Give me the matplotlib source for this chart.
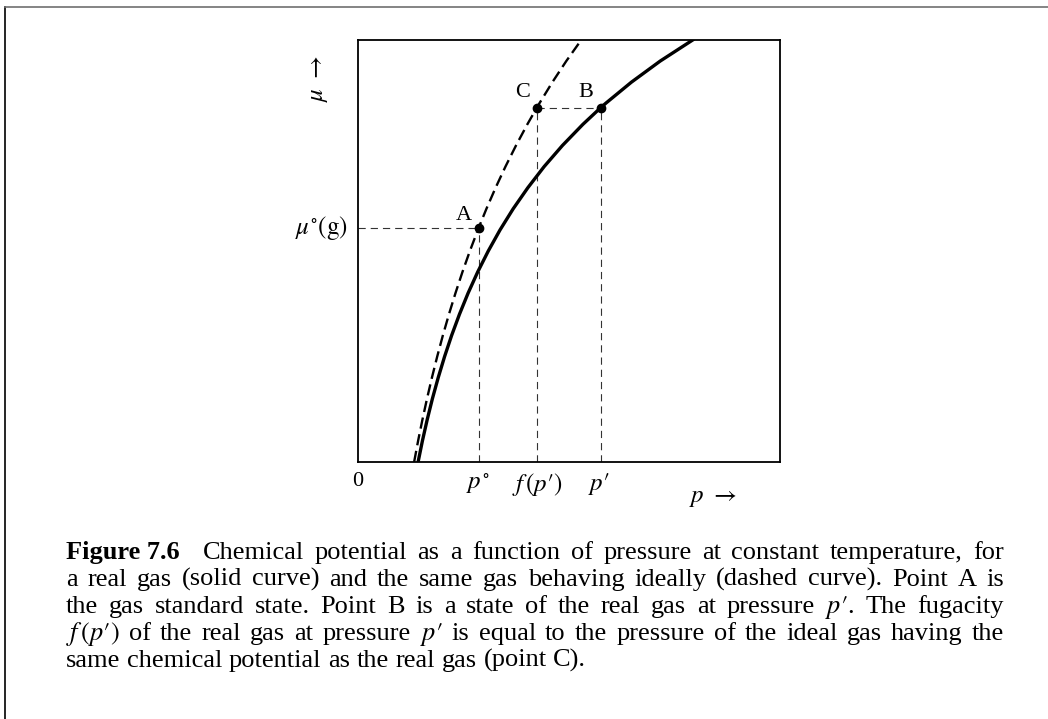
import matplotlib
matplotlib.use("Agg")
import matplotlib.pyplot as plt
from matplotlib.lines import Line2D

plt.rcParams['font.family'] = ['Liberation Serif', 'DejaVu Serif']
plt.rcParams['mathtext.fontset'] = 'stix'

W, H = 1048, 719

# ideal gas (dashed) curve: pressure vs chemical potential
ideal_p = [0.133, 0.1424, 0.1526, 0.1635, 0.1752, 0.1877, 0.2011, 0.2155, 0.2309, 0.2474,
           0.2651, 0.286, 0.3043, 0.3261, 0.3494, 0.3744, 0.4012, 0.424, 0.4299, 0.4606,
           0.4935, 0.529]
ideal_mu = [0.0, 0.05, 0.1, 0.15, 0.2, 0.25, 0.3, 0.35, 0.4, 0.45,
            0.5, 0.555, 0.6, 0.65, 0.7, 0.75, 0.8, 0.84, 0.85, 0.9,
            0.95, 1.0]

# real gas (solid) curve
real_p = [0.1424, 0.1526, 0.1639, 0.1763, 0.1901, 0.2052, 0.2219, 0.2404, 0.2608, 0.2835,
          0.3087, 0.3366, 0.3677, 0.4025, 0.4411, 0.4844, 0.5328, 0.5755, 0.587, 0.6478,
          0.716, 0.7931]
real_mu = [0.0, 0.05, 0.1, 0.15, 0.2, 0.25, 0.3, 0.35, 0.4, 0.45,
           0.5, 0.55, 0.6, 0.65, 0.7, 0.75, 0.8, 0.84, 0.85, 0.9,
           0.95, 1.0]

# marked states
p_std = 0.286      # p°
mu_std = 0.555     # mu°(g)
p_fug = 0.424      # f(p')
p_prime = 0.5755   # p'
mu_B = 0.84

caption_lines = [
    ["Figure 7.6", "Chemical", "potential", "as", "a", "function", "of", "pressure", "at",
     "constant", "temperature,", "for"],
    "a real gas (solid curve) and the same gas behaving ideally (dashed curve). Point A is".split(),
    ["the", "gas", "standard", "state.", "Point", "B", "is", "a", "state", "of", "the", "real",
     "gas", "at", "pressure", "$p′$.", "The", "fugacity"],
    ["$f\\,(p′)$", "of", "the", "real", "gas", "at", "pressure", "$p′$", "is", "equal", "to", "the",
     "pressure", "of", "the", "ideal", "gas", "having", "the"],
    "same chemical potential as the real gas (point C).".split(),
]


def fx(x):
    return x / W


def fy(y):
    return 1 - y / H


fig = plt.figure(figsize=(W / 100, H / 100), dpi=100)

# outer frame of the figure box (only top and left show)
fig.add_artist(Line2D([fx(5), fx(5)], [fy(719), fy(7)], color='black', lw=1.2,
                      transform=fig.transFigure))
fig.add_artist(Line2D([fx(5), fx(1048)], [fy(7), fy(7)], color='#707070', lw=1.2,
                      transform=fig.transFigure))

ax = fig.add_axes([fx(358), fy(462), 422 / W, 422 / H])
ax.set_xlim(0, 1)
ax.set_ylim(0, 1)
ax.set_xticks([])
ax.set_yticks([])
for s in ax.spines.values():
    s.set_linewidth(1.3)

guide = dict(color='#333333', lw=0.8, dashes=(6.5, 4.5))
ax.plot([0, p_std], [mu_std, mu_std], **guide)
ax.plot([p_std, p_std], [0, mu_std], **guide)
ax.plot([p_fug, p_prime], [mu_B, mu_B], **guide)
ax.plot([p_fug, p_fug], [0, mu_B], **guide)
ax.plot([p_prime, p_prime], [0, mu_B], **guide)

ax.plot(ideal_p, ideal_mu, color='black', lw=1.7, dashes=(4.8, 2.4), solid_joinstyle='round')
ax.plot(real_p, real_mu, color='black', lw=2.4, solid_joinstyle='round')
ax.plot([p_std, p_fug, p_prime], [mu_std, mu_B, mu_B], 'o', color='black', ms=6, clip_on=False)

fs = 16
ax.text(p_std - 0.035, mu_std + 0.03, "A", fontsize=fs, ha='center', va='center')
ax.text(p_fug - 0.035, mu_B + 0.035, "C", fontsize=fs, ha='center', va='center')
ax.text(p_prime - 0.035, mu_B + 0.035, "B", fontsize=fs, ha='center', va='center')

mfs = 18
fig.text(fx(358), fy(481), "0", fontsize=fs, ha='center', va='center')
fig.text(fx(478), fy(484), "$p^{\\circ}$", fontsize=mfs, ha='center', va='center')
fig.text(fx(537), fy(484), "$f\\,(p′)$", fontsize=mfs, ha='center', va='center')
fig.text(fx(599), fy(484), "$p′$", fontsize=mfs, ha='center', va='center')
fig.text(fx(713), fy(498), "$p\\ \\rightarrow$", fontsize=mfs, ha='center', va='center')
fig.text(fx(348), fy(228), "$\\mu^{\\circ}(\\mathrm{g})$", fontsize=mfs, ha='right',
         va='center')
fig.text(fx(319), fy(78), "$\\mu\\ \\rightarrow$", fontsize=mfs, ha='center', va='center',
         rotation=90)

# caption, justified between x0 and x1
renderer = fig.canvas.get_renderer()
x0, x1 = 66, 1004
cap_fs = 19
baselines = [559, 586, 613, 640, 667]


def width(s, weight='normal'):
    t = fig.text(0, 0, s, fontsize=cap_fs, fontweight=weight)
    w = t.get_window_extent(renderer).width
    t.remove()
    return w


space = width("a a") - 2 * width("a")
for i, words in enumerate(caption_lines):
    weights = ['bold' if (i == 0 and j == 0) else 'normal' for j in range(len(words))]
    ws = [width(w, wt) for w, wt in zip(words, weights)]
    gaps = [1.0] * (len(words) - 1)
    if i == 0:
        gaps[0] = 2.2
    if i == len(caption_lines) - 1:
        unit = space
    else:
        unit = (x1 - x0 - sum(ws)) / sum(gaps)
    x = x0
    for j, (w, wt) in enumerate(zip(words, weights)):
        fig.text(fx(x), fy(baselines[i]), w, fontsize=cap_fs, fontweight=wt,
                 ha='left', va='baseline')
        x += ws[j]
        if j < len(gaps):
            x += gaps[j] * unit

fig.savefig("out.png", dpi=100)
